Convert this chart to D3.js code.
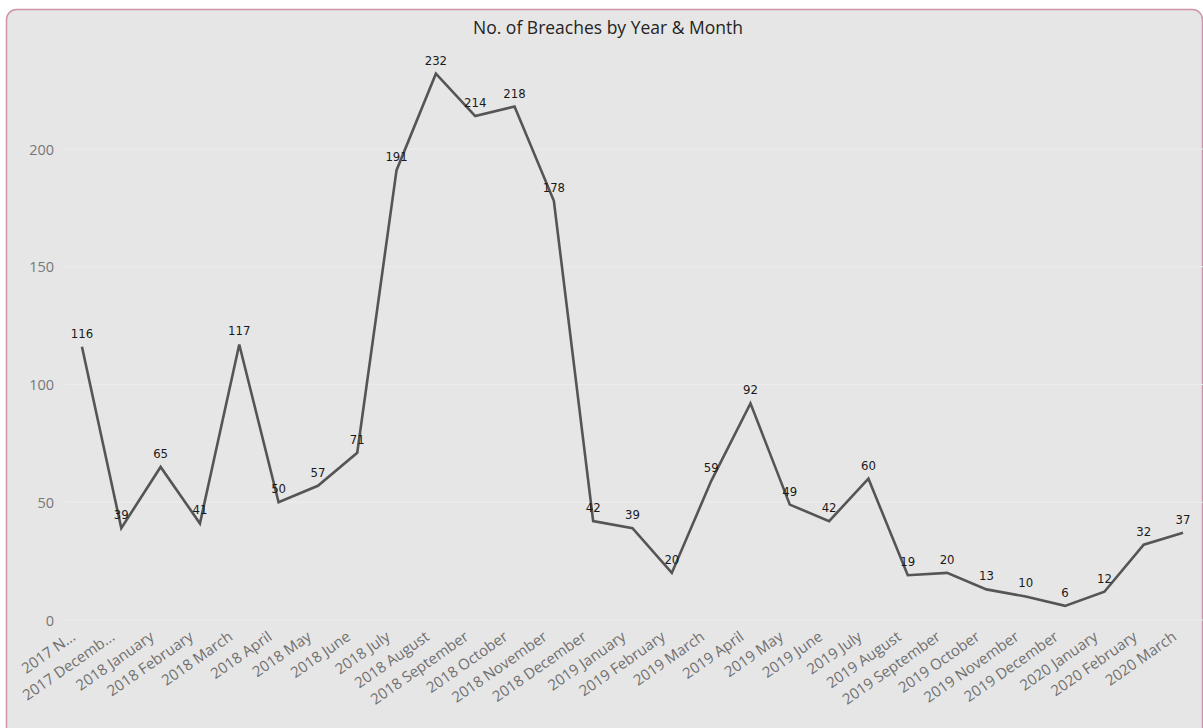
<!DOCTYPE html>
<html>
<head>
<meta charset="utf-8">
<script src="https://cdn.jsdelivr.net/npm/d3@7"></script>
<style>
    body { margin: 0; background: #ffffff; }
</style>
</head>
<body>
<script>

// Months shown on the x axis (first two are cut short, as in the original visual)
var months = [
    '2017 N...', '2017 Decemb...',
    '2018 January', '2018 February', '2018 March', '2018 April', '2018 May', '2018 June',
    '2018 July', '2018 August', '2018 September', '2018 October', '2018 November', '2018 December',
    '2019 January', '2019 February', '2019 March', '2019 April', '2019 May', '2019 June',
    '2019 July', '2019 August', '2019 September', '2019 October', '2019 November', '2019 December',
    '2020 January', '2020 February', '2020 March'
]

var breaches = [
    116, 39,
    65, 41, 117, 50, 57, 71, 191, 232, 214, 218, 178, 42,
    39, 20, 59, 92, 49, 42, 60, 19, 20, 13, 10, 6,
    12, 32, 37
]

var yTicks = [0, 50, 100, 150, 200]

var title = 'No. of Breaches by Year & Month'

var width = 1203
var height = 728

var svg = d3.select('body')
            .append('svg')
                .attr('width', width)
                .attr('height', height)

// panel
svg.append('rect')
        .attr('x', 6.5)
        .attr('y', 9.5)
        .attr('width', 1196)
        .attr('height', 730)
        .attr('rx', 10)
        .attr('fill', '#e6e6e6')
        .attr('stroke', '#cf93ab')
        .attr('stroke-width', 1.5)

svg.append('text')
        .attr('x', 608)
        .attr('y', 34)
        .attr('text-anchor', 'middle')
        .style('font-family', 'Open Sans, sans-serif')
        .style('font-size', '17.5px')
        .style('fill', '#252423')
        .text(title)

var plotLeft = 62.3
var plotRight = 1202.7
var plotTop = 54.8
var plotBottom = 620

var x = d3.scalePoint().domain(months).range([plotLeft, plotRight]).padding(0.5)
var y = d3.scaleLinear().domain([0, 240]).range([plotBottom, plotTop])

// gridlines
svg.append('g')
        .selectAll('line')
        .data(yTicks)
        .enter()
            .append('line')
                .attr('x1', 65)
                .attr('x2', width)
                .attr('y1', d => y(d))
                .attr('y2', d => y(d))
                .attr('stroke', '#ededed')
                .attr('stroke-width', 1)

// y axis
var yAxis = d3.axisLeft(y).tickValues(yTicks).tickSize(0).tickPadding(0)
var yg = svg.append('g')
        .attr('transform', 'translate(54,0)')
        .call(yAxis)
yg.select('.domain').remove()
yg.selectAll('text')
        .attr('dy', '0.35em')
        .style('font-family', 'Open Sans, sans-serif')
        .style('font-size', '14.5px')
        .style('fill', '#777777')

// x axis
var xAxis = d3.axisBottom(x).tickSize(0).tickPadding(0)
var xg = svg.append('g')
        .attr('transform', 'translate(0,' + plotBottom + ')')
        .call(xAxis)
xg.select('.domain').remove()
xg.selectAll('text')
        .attr('text-anchor', 'end')
        .attr('dy', 0)
        .attr('transform', 'translate(-6,19) rotate(-35)')
        .style('font-family', 'Open Sans, sans-serif')
        .style('font-size', '15px')
        .style('fill', '#707070')

// line
var line = d3.line()
        .x((d, i) => x(months[i]))
        .y(d => y(d))

svg.append('path')
        .datum(breaches)
        .attr('d', line)
        .attr('fill', 'none')
        .attr('stroke', '#555555')
        .attr('stroke-width', 2.6)
        .attr('stroke-linejoin', 'miter')

// data labels
svg.append('g')
        .selectAll('text')
        .data(breaches)
        .enter()
            .append('text')
                .attr('x', (d, i) => x(months[i]))
                .attr('y', d => y(d) - 9)
                .attr('text-anchor', 'middle')
                .style('font-family', 'DejaVu Sans Condensed, DejaVu Sans, sans-serif')
                .style('font-size', '13px')
                .style('fill', '#1a1a1a')
                .text(d => d)

</script>
</body>
</html>
